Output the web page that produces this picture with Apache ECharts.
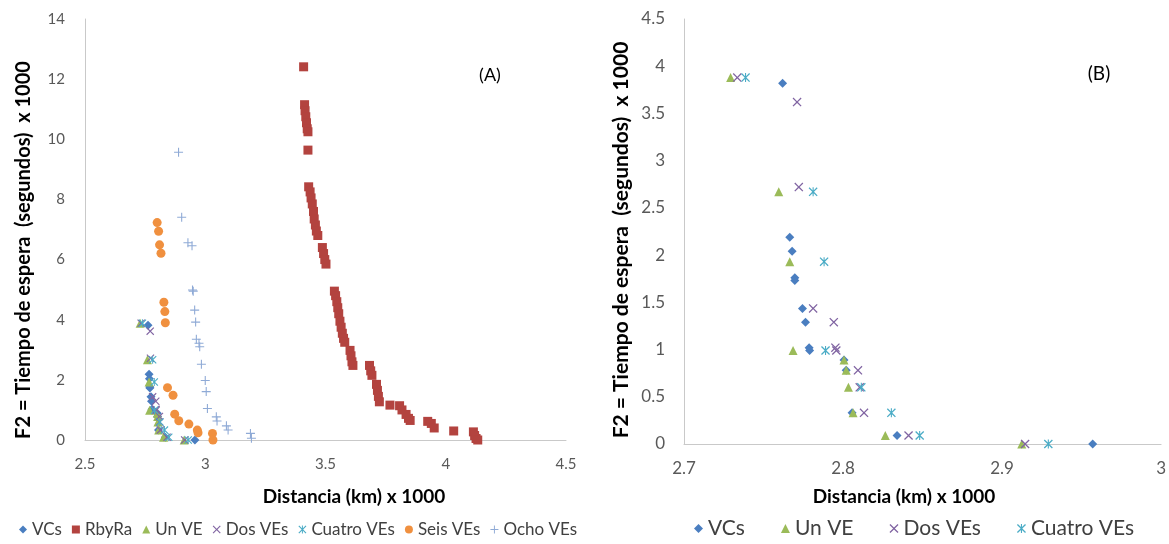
<!DOCTYPE html>
<html>
<head>
<meta charset="utf-8">
<script src="https://cdn.jsdelivr.net/npm/echarts@6/dist/echarts.min.js"></script>
<style>
html,body{margin:0;padding:0;background:#fff;}
#c{width:1169px;height:544px;}
</style>
</head>
<body>
<div id="c"></div>
<script>
// ---- data (x = Distancia km x1000, y = F2 x1000) ----
const vcs = [[2.762,3.82],[2.7665,2.19],[2.768,2.04],[2.7697,1.76],[2.7697,1.73],[2.7745,1.435],[2.7764,1.29],[2.7787,1.02],[2.779,0.99],[2.8006,0.89],[2.802,0.78],[2.8057,0.33],[2.834,0.09],[2.957,0.0]];
const unVE = [[2.7293,3.88],[2.7596,2.67],[2.7665,1.93],[2.7686,0.99],[2.8006,0.89],[2.802,0.78],[2.8034,0.6],[2.8063,0.33],[2.8266,0.09],[2.9124,0]];
const dosVEs = [[2.7335,3.88],[2.7711,3.62],[2.7722,2.72],[2.7812,1.435],[2.7942,1.29],[2.7952,1.02],[2.7958,0.99],[2.8094,0.78],[2.8105,0.6],[2.8132,0.33],[2.8412,0.09],[2.9145,0]];
const cuatroVEs = [[2.7387,3.88],[2.7812,2.67],[2.7881,1.93],[2.789,0.99],[2.8115,0.6],[2.8304,0.33],[2.8482,0.09],[2.9291,0]];
const rbyRa = [[3.409,12.41],[3.413,11.15],[3.415,10.95],[3.418,10.75],[3.421,10.55],[3.424,10.35],[3.427,10.25],[3.427,9.64],
  [3.430,8.42],[3.436,8.25],[3.440,8.05],[3.445,7.85],[3.450,7.6],[3.453,7.35],[3.458,7.15],[3.462,6.95],[3.468,6.8],
  [3.487,6.4],[3.492,6.2],[3.497,6.0],[3.502,5.85],
  [3.537,4.95],[3.542,4.8],[3.547,4.6],[3.551,4.4],[3.555,4.2],[3.56,3.95],[3.565,3.75],[3.57,3.55],[3.575,3.38],[3.58,3.25],
  [3.602,2.98],[3.606,2.8],[3.61,2.6],[3.614,2.48],
  [3.683,2.48],[3.688,2.3],[3.693,2.15],
  [3.712,1.85],[3.716,1.65],[3.72,1.45],[3.724,1.27],
  [3.768,1.16],
  [3.808,1.14],[3.818,1.0],[3.835,0.85],[3.845,0.72],[3.852,0.65],
  [3.925,0.62],[3.94,0.55],[3.952,0.4],
  [4.033,0.3],
  [4.115,0.27],[4.12,0.15],[4.126,0.05],[4.133,0.0]];
const seisVEs = [[2.80,7.23],[2.806,6.94],[2.81,6.49],[2.816,6.21],[2.828,4.58],[2.832,4.27],[2.834,3.90],[2.843,1.74],[2.866,1.49],[2.873,0.86],[2.89,0.64],[2.932,0.53],[2.967,0.33],[2.97,0.24],[3.03,0.22],[3.032,0.0]];
const ochoVEs = [[2.889,9.57],[2.902,7.41],[2.928,6.56],[2.945,6.46],[2.947,4.99],[2.95,4.95],[2.956,4.32],[2.96,3.92],[2.963,3.35],[2.974,3.22],[2.977,3.10],[2.984,2.52],[3.0,1.98],[3.004,1.61],[3.009,1.05],[3.046,0.77],[3.049,0.63],[3.088,0.47],[3.095,0.33],[3.188,0.22],[3.192,0.06]];

const namesA = ['VCs','RbyRa','Un VE','Dos VEs','Cuatro VEs','Seis VEs','Ocho VEs'];
const namesB = ['VCs','Un VE','Dos VEs','Cuatro VEs'];
const xTitle = 'Distancia (km) x 1000';
const yTitle = 'F2 = Tiempo de espera  (segundos)  x 1000';

// ---- styles ----
const COL = {vcs:'#4A7EC0', rby:'#B3433F', un:'#9BBB59', dos:'#8064A2', cua:'#4BACC6', seis:'#F0903F', ocho:'#8FAAD6'};
const X_PATH = 'path://M0,1L1,0L5,4L9,0L10,1L6,5L10,9L9,10L5,6L1,10L0,9L4,5Z';
const PLUS_PATH = 'path://M4.4,0H5.6V4.4H10V5.6H5.6V10H4.4V5.6H0V4.4H4.4Z';
const AST_PATH = 'path://M0,1L1,0L5,4L9,0L10,1L6,5L10,9L9,10L5,6L1,10L0,9L4,5Z M4.4,0H5.6V10H4.4Z';
const FONT = 'Lato';

function sc(name, data, color, symbol, size, axis){
  return {type:'scatter', name, data, xAxisIndex:axis, yAxisIndex:axis, symbol, symbolSize:size,
    itemStyle:{color, opacity:1}, emphasis:{disabled:true}, animation:false, silent:true};
}

const axisLine = {show:true, lineStyle:{color:'#C9C9C9', width:1}};
const option = {
  animation:false,
  grid:[
    {left:85, top:19, width:481, height:421},
    {left:684, top:19, width:478, height:425}
  ],
  xAxis:[
    {type:'value', gridIndex:0, min:2.5, max:4.5, interval:0.5, axisLine, axisTick:{show:false}, splitLine:{show:false},
      axisLabel:{fontFamily:FONT, fontSize:15, color:'#595959', margin:17}},
    {type:'value', gridIndex:1, min:2.7, max:3.0, interval:0.1, axisLine, axisTick:{show:false}, splitLine:{show:false},
      axisLabel:{fontFamily:FONT, fontSize:17, color:'#595959', margin:16, formatter:v=>String(+v.toFixed(1))}}
  ],
  yAxis:[
    {type:'value', gridIndex:0, min:0, max:14, interval:2, axisLine, axisTick:{show:false}, splitLine:{show:false},
      axisLabel:{fontFamily:FONT, fontSize:15, color:'#595959', margin:20}},
    {type:'value', gridIndex:1, min:0, max:4.5, interval:0.5, axisLine, axisTick:{show:false}, splitLine:{show:false},
      axisLabel:{fontFamily:FONT, fontSize:17, color:'#595959', margin:19}}
  ],
  legend:[
    {data:namesA, left:14, top:516, itemWidth:8, itemHeight:8, itemGap:10, textStyle:{fontFamily:FONT, fontSize:17, color:'#404040'}, selectedMode:false},
    {data:namesB, left:689, top:513, itemWidth:9, itemHeight:9, itemGap:36, textStyle:{fontFamily:FONT, fontSize:21, color:'#404040'}, selectedMode:false}
  ],
  series:[
    sc('VCs', vcs, COL.vcs, 'diamond', 9, 0),
    sc('RbyRa', rbyRa, COL.rby, 'rect', 9, 0),
    sc('Un VE', unVE, COL.un, 'triangle', 9, 0),
    sc('Dos VEs', dosVEs, COL.dos, X_PATH, 8, 0),
    sc('Cuatro VEs', cuatroVEs, COL.cua, AST_PATH, 8, 0),
    sc('Seis VEs', seisVEs, COL.seis, 'circle', 9, 0),
    sc('Ocho VEs', ochoVEs, COL.ocho, PLUS_PATH, 9, 0),
    sc('VCs', vcs, COL.vcs, 'diamond', 9, 1),
    sc('Un VE', unVE, COL.un, 'triangle', 9, 1),
    sc('Dos VEs', dosVEs, COL.dos, X_PATH, 9, 1),
    sc('Cuatro VEs', cuatroVEs, COL.cua, AST_PATH, 9, 1)
  ],
  graphic:[
    {type:'text', x:24, y:250, rotation:Math.PI/2, silent:true,
      style:{text:yTitle, font:'bold 20px '+FONT, fill:'#000', align:'center', verticalAlign:'middle'}},
    {type:'text', x:621, y:240, rotation:Math.PI/2, silent:true,
      style:{text:yTitle, font:'bold 21px '+FONT, fill:'#000', align:'center', verticalAlign:'middle'}},
    {type:'text', x:354, y:497, silent:true,
      style:{text:xTitle, font:'bold 19px '+FONT, fill:'#000', align:'center', verticalAlign:'middle'}},
    {type:'text', x:904, y:497, silent:true,
      style:{text:xTitle, font:'bold 19px '+FONT, fill:'#000', align:'center', verticalAlign:'middle'}},
    {type:'text', x:490, y:75, silent:true,
      style:{text:'(A)', font:'18px '+FONT, fill:'#000', align:'center', verticalAlign:'middle'}},
    {type:'text', x:1099, y:74, silent:true,
      style:{text:'(B)', font:'19px '+FONT, fill:'#000', align:'center', verticalAlign:'middle'}}
  ]
};
const chart = echarts.init(document.getElementById('c'), null, {renderer:'canvas'});
chart.setOption(option);
</script>
</body>
</html>
